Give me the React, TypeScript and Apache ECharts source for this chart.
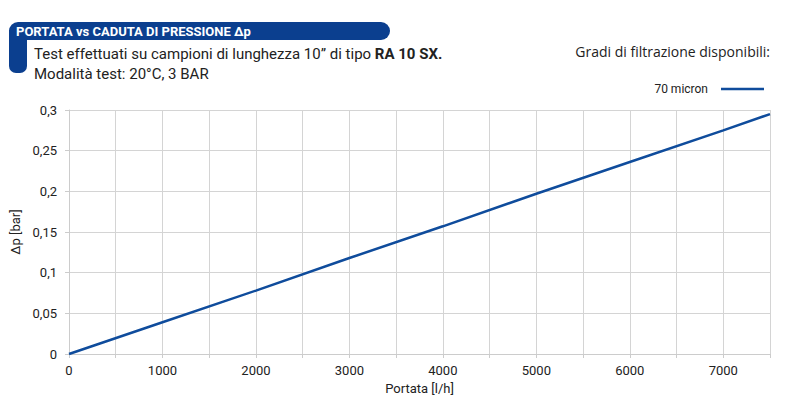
import React, { useEffect, useRef } from "react";
import * as echarts from "echarts";

const flowRates = [0, 1000, 2000, 3000, 4000, 5000, 6000, 7000, 7500];
const pressureDrop70 = [0, 0.039, 0.078, 0.118, 0.157, 0.197, 0.236, 0.275, 0.295];
const seriesName = "70 micron";
const headerTitle = "PORTATA vs CADUTA DI PRESSIONE Δp";
const subtitleLine1 = "Test effettuati su campioni di lunghezza 10” di tipo ";
const subtitleBold = "RA 10 SX.";
const subtitleLine2 = "Modalità test: 20°C, 3 BAR";
const legendTitle = "Gradi di filtrazione disponibili:";
const xAxisName = "Portata [l/h]";
const yAxisName = "Δp [bar]";

const BLUE = "#0b3f8f";
const LINE = "#0f4c9c";
const NARROW = "'Liberation Sans Narrow', 'Roboto', sans-serif";

export default function App() {
  const ref = useRef<HTMLDivElement>(null);
  useEffect(() => {
    if (!ref.current) return;
    const chart = echarts.init(ref.current, null, { renderer: "svg" });
    chart.setOption({
      animation: false,
      backgroundColor: "#ffffff",
      grid: { left: 69, right: 30, top: 110, bottom: 59, containLabel: false },
      xAxis: {
        type: "value",
        min: 0,
        max: 7500,
        interval: 500,
        name: xAxisName,
        nameLocation: "middle",
        nameGap: 28,
        nameTextStyle: { fontFamily: NARROW, fontSize: 13, color: "#222" },
        axisLine: { show: true, lineStyle: { color: "#cccccc" } },
        axisTick: { show: true, length: 4, lineStyle: { color: "#cccccc" } },
        splitLine: { show: true, lineStyle: { color: "#d4d4d4", width: 1 } },
        axisLabel: {
          margin: 10,
          fontFamily: NARROW,
          fontSize: 13,
          color: "#222",
          formatter: (v: number) => (v % 1000 === 0 ? String(v) : ""),
        },
      },
      yAxis: {
        type: "value",
        min: 0,
        max: 0.3,
        interval: 0.05,
        name: yAxisName,
        nameLocation: "middle",
        nameGap: 46,
        nameRotate: 90,
        nameTextStyle: { fontFamily: NARROW, fontSize: 13, color: "#222" },
        axisLine: { show: true, lineStyle: { color: "#cccccc" } },
        axisTick: { show: true, length: 4, lineStyle: { color: "#cccccc" } },
        splitLine: { show: true, lineStyle: { color: "#d4d4d4", width: 1 } },
        axisLabel: {
          margin: 12,
          fontFamily: NARROW,
          fontSize: 13,
          color: "#222",
          formatter: (v: number) => String(Math.round(v * 100) / 100).replace(".", ","),
        },
      },
      legend: {
        right: 31,
        top: 78,
        align: "right",
        icon: "rect",
        itemWidth: 43,
        itemHeight: 2.5,
        itemGap: 14,
        textStyle: { fontFamily: NARROW, fontSize: 12, color: "#222", padding: [0, 8, 0, 0] },
        data: [seriesName],
      },
      series: [
        {
          name: seriesName,
          type: "line",
          data: flowRates.map((x, i) => [x, pressureDrop70[i]]),
          showSymbol: false,
          symbol: "none",
          lineStyle: { color: LINE, width: 2.5 },
          itemStyle: { color: LINE },
        },
      ],
      graphic: [
        {
          type: "rect",
          shape: { x: 9, y: 22, width: 381, height: 18, r: [9, 9, 9, 0] },
          style: { fill: BLUE },
          z: 10,
        },
        {
          type: "rect",
          shape: { x: 9, y: 30, width: 18, height: 43, r: [0, 0, 7, 7] },
          style: { fill: BLUE },
          z: 10,
        },
        {
          type: "text",
          x: 16,
          y: 31,
          style: {
            text: headerTitle,
            fill: "#ffffff",
            font: `bold 13px ${NARROW}`,
            verticalAlign: "middle",
          },
          z: 11,
        },
        {
          type: "text",
          x: 34,
          y: 54,
          style: {
            text: `{n|${subtitleLine1}}{b|${subtitleBold}}`,
            verticalAlign: "middle",
            rich: {
              n: { fontFamily: NARROW, fontSize: 15, fill: "#222" },
              b: { fontFamily: NARROW, fontSize: 15, fontWeight: "bold", fill: "#222" },
            },
          },
          z: 11,
        },
        {
          type: "text",
          x: 34,
          y: 74,
          style: {
            text: subtitleLine2,
            fill: "#222",
            font: `15px ${NARROW}`,
            verticalAlign: "middle",
          },
          z: 11,
        },
        {
          type: "text",
          x: 770,
          y: 51,
          style: {
            text: legendTitle,
            fill: "#222",
            font: "14px 'Open Sans', sans-serif",
            align: "right",
            verticalAlign: "middle",
          },
          z: 11,
        },
      ],
    });
    return () => chart.dispose();
  }, []);
  return (
    <div
      ref={ref}
      style={{ position: "absolute", left: 0, top: 0, width: 800, height: 413 }}
    />
  );
}
